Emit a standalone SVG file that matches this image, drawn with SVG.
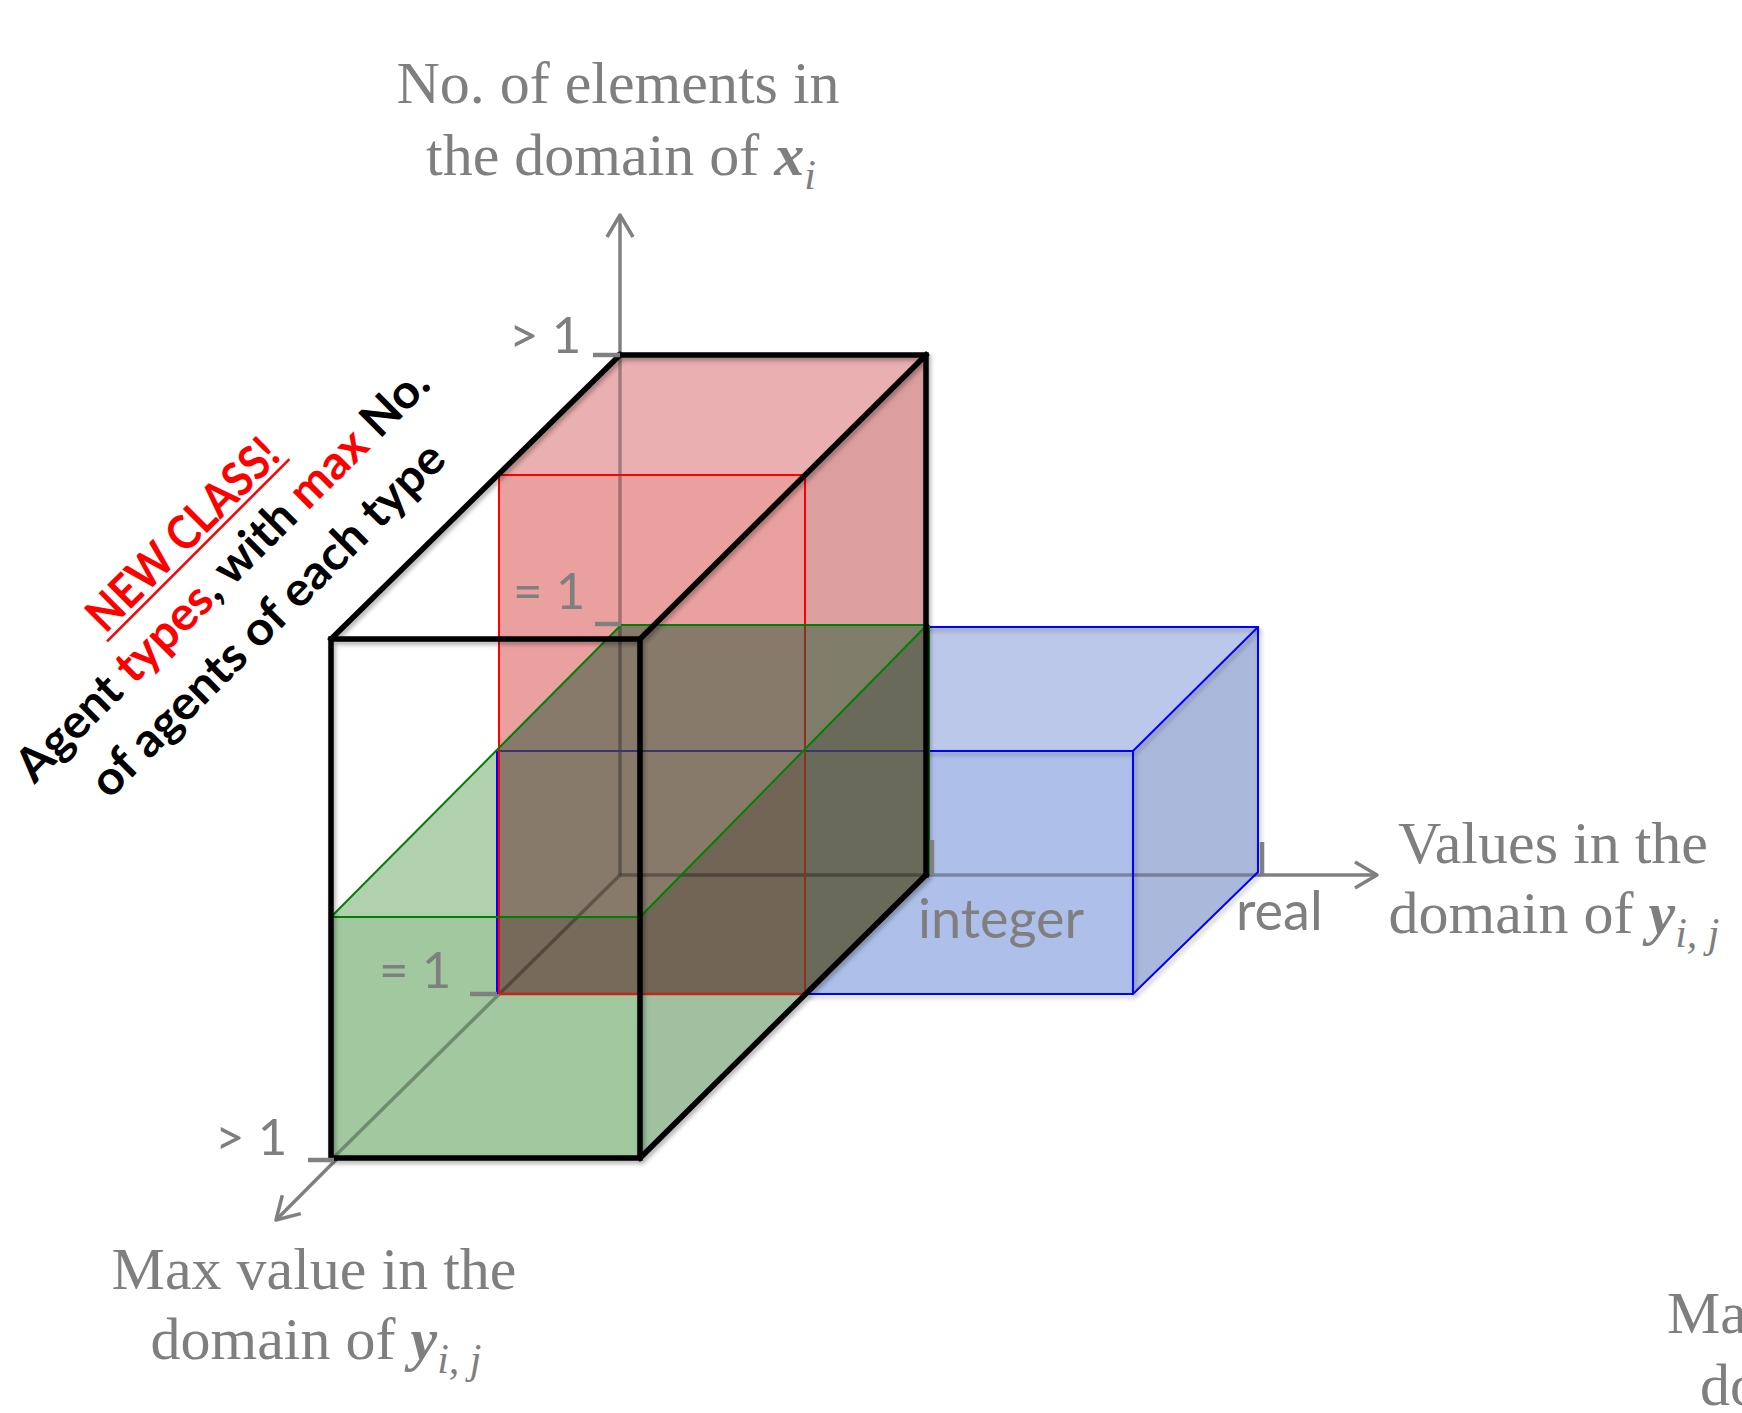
<svg xmlns="http://www.w3.org/2000/svg" width="1742" height="1413" viewBox="0 0 1742 1413">
<style>
.ax{stroke:#808080;stroke-width:3.5;fill:none}
.tick{stroke:#808080;stroke-width:4.5;fill:none}
.axin{stroke:#000;stroke-opacity:0.3;stroke-width:3.5;fill:none}
.lbl{font-family:"Liberation Serif",serif;font-size:60px;fill:#7F7F7F}
.sans{font-family:Lato,"Liberation Sans",sans-serif;fill:#7F7F7F}
.blk{stroke:#000;stroke-width:5.5;fill:none;stroke-linejoin:miter;stroke-linecap:square}
.bl{stroke:#0000FF;stroke-width:2;fill:none}
.rd{stroke:#FF0000;stroke-width:2;fill:none}
.gr{stroke:#008000;stroke-width:2;fill:none}
.note{font-family:Lato,"Liberation Sans",sans-serif;font-weight:700;font-size:47px;text-anchor:middle}
</style>
<defs>
<marker id="arr" markerUnits="userSpaceOnUse" viewBox="-30 -20 40 40" refX="0" refY="0" markerWidth="40" markerHeight="40" orient="auto">
<path d="M-22,-13 L0,0 L-22,13" fill="none" stroke="#808080" stroke-width="3.5" stroke-linejoin="round"/>
</marker>
<filter id="sh" x="-10%" y="-10%" width="120%" height="120%">
<feDropShadow dx="2" dy="3" stdDeviation="2" flood-color="#000" flood-opacity="0.3"/>
</filter>
<clipPath id="cRedFront"><rect x="499" y="475" width="306" height="519"/></clipPath>
<clipPath id="cRedRight"><polygon points="926,355 926,875 805,994 805,475"/></clipPath>
</defs>
<rect width="1742" height="1413" fill="#FFFFFF"/>

<g id="axes">
<line class="ax" x1="620" y1="875" x2="620" y2="215" marker-end="url(#arr)"/>
<line class="ax" x1="620" y1="875" x2="1377" y2="875" marker-end="url(#arr)"/>
<line class="ax" x1="620" y1="875" x2="276" y2="1220" marker-end="url(#arr)"/>
</g>

<g id="blue-box">
<polygon points="620,627 1258,627 1133,751 497,751" fill="#BCC8EA"/>
<polygon points="497,751 1133,751 1133,994 497,994" fill="#AEBFEA"/>
<polygon points="1258,627 1258,872 1133,994 1133,751" fill="#AAB8DC"/>
</g>

<g id="red-box">
<polygon points="620,355 926,355 805,475 499,475" fill="#EAAFB0"/>
<polygon points="499,475 805,475 805,994 499,994" fill="#EBA0A0"/>
<polygon points="926,355 926,875 805,994 805,475" fill="#DC9E9F"/>
</g>

<g id="green-box">
<polygon points="621,625 927,625 640,917 331,917" fill="#B0D0AE"/>
<polygon points="331,917 640,917 640,1158 331,1158" fill="#A1C89F"/>
<polygon points="927,625 927,875 640,1158 640,917" fill="#A0C0A0"/>
<polygon points="621,625 927,625 640,917 331,917" fill="#877A6A" clip-path="url(#cRedFront)"/>
<polygon points="621,625 927,625 640,917 331,917" fill="#807C6A" clip-path="url(#cRedRight)"/>
<polygon points="927,625 927,875 640,1158 640,917" fill="#716556" clip-path="url(#cRedFront)"/>
<polygon points="927,625 927,875 640,1158 640,917" fill="#6A6A5B" clip-path="url(#cRedRight)"/>
<polygon points="331,917 640,917 640,1158 331,1158" fill="#766A5B" clip-path="url(#cRedFront)"/>
</g>

<g id="axes-through">
<line class="axin" x1="620" y1="355" x2="620" y2="875"/>
<line class="axin" x1="620" y1="875" x2="1256" y2="875"/>
<line class="axin" x1="620" y1="875" x2="331" y2="1160"/>
</g>

<g id="edges">
<g filter="url(#sh)">
<polyline class="bl" points="926,627 1258,627 1258,872 1133,994 805,994"/>
<line class="bl" x1="1258" y1="627" x2="1133" y2="751"/>
<line class="bl" x1="926" y1="751" x2="1133" y2="751"/>
<line class="bl" x1="1133" y1="751" x2="1133" y2="994"/>
</g>
<line class="bl" x1="497" y1="751" x2="497" y2="994"/>
<line x1="499" y1="751" x2="926" y2="751" stroke="#3C3470" stroke-width="2"/>
<line class="rd" x1="499" y1="475" x2="805" y2="475"/>
<line class="rd" x1="499" y1="475" x2="499" y2="994"/>
<line class="rd" x1="805" y1="475" x2="805" y2="625"/>
<line x1="805" y1="625" x2="805" y2="994" stroke="#8A3020" stroke-width="2"/>
<line x1="499" y1="994" x2="805" y2="994" stroke="#C02A12" stroke-width="2.5"/>
<line class="rd" x1="620" y1="355" x2="499" y2="475"/>
<line class="gr" x1="621" y1="625" x2="929" y2="625"/>
<line class="gr" x1="929" y1="625" x2="929" y2="875"/>
<line class="gr" x1="621" y1="625" x2="331" y2="917"/>
<line class="gr" x1="927" y1="625" x2="640" y2="917"/>
<line class="gr" x1="331" y1="917" x2="640" y2="917"/>
</g>

<g id="black-box" filter="url(#sh)">
<polyline class="blk" points="620,355 926,355 926,875"/>
<line class="blk" x1="620" y1="355" x2="331" y2="639"/>
<line class="blk" x1="926" y1="355" x2="640" y2="639"/>
<line class="blk" x1="926" y1="875" x2="640" y2="1158"/>
<rect class="blk" x="331" y="639" width="309" height="519"/>
</g>

<g id="ticks">
<line class="tick" x1="593" y1="355" x2="620" y2="355"/>
<line class="tick" x1="595" y1="624" x2="621" y2="624"/>
<line class="tick" x1="470" y1="994" x2="497" y2="994"/>
<line class="tick" x1="308" y1="1160" x2="334" y2="1160"/>
<line class="tick" x1="932" y1="840" x2="932" y2="875"/>
<line class="tick" x1="1262" y1="842" x2="1262" y2="875"/>
</g>

<g id="tick-labels">
<text class="sans" x="509" y="353" font-size="51">&gt; 1</text>
<text class="sans" x="513" y="609" font-size="51">= 1</text>
<text class="sans" x="379" y="988" font-size="51">= 1</text>
<text class="sans" x="215" y="1155" font-size="51">&gt; 1</text>
<text class="sans" x="918" y="938" font-size="54">integer</text>
<text class="sans" x="1236" y="930" font-size="54">real</text>
</g>

<g id="axis-labels">
<text class="lbl" x="618" y="103" text-anchor="middle">No. of elements in</text>
<text class="lbl" x="621" y="175" text-anchor="middle">the domain of <tspan font-weight="700" font-style="italic">x</tspan><tspan font-style="italic" font-size="42" dy="14">i</tspan></text>
<text class="lbl" x="1553" y="863" text-anchor="middle">Values in the</text>
<text class="lbl" x="1554" y="933" text-anchor="middle">domain of <tspan font-weight="700" font-style="italic">y</tspan><tspan font-style="italic" font-size="42" dy="14">i, j</tspan></text>
<text class="lbl" x="314" y="1289" text-anchor="middle">Max value in the</text>
<text class="lbl" x="316" y="1359" text-anchor="middle">domain of <tspan font-weight="700" font-style="italic">y</tspan><tspan font-style="italic" font-size="42" dy="14">i, j</tspan></text>
<text class="lbl" x="1667" y="1333">Ma</text>
<text class="lbl" x="1700" y="1405">do</text>
</g>

<g id="annotation" transform="translate(194,546) rotate(-45)">
<text class="note" x="0" y="0" fill="#FF0000" textLength="250" lengthAdjust="spacingAndGlyphs">NEW CLASS!</text>
<line x1="-129" y1="6" x2="129" y2="6" stroke="#FF0000" stroke-width="2.5"/>
<text class="note" x="0" y="56" fill="#000000" textLength="563" lengthAdjust="spacingAndGlyphs">Agent <tspan fill="#FF0000">types</tspan>, with <tspan fill="#FF0000">max</tspan> No.</text>
<text class="note" x="0" y="120" fill="#000000" textLength="479" lengthAdjust="spacingAndGlyphs">of agents of each type</text>
</g>
</svg>
